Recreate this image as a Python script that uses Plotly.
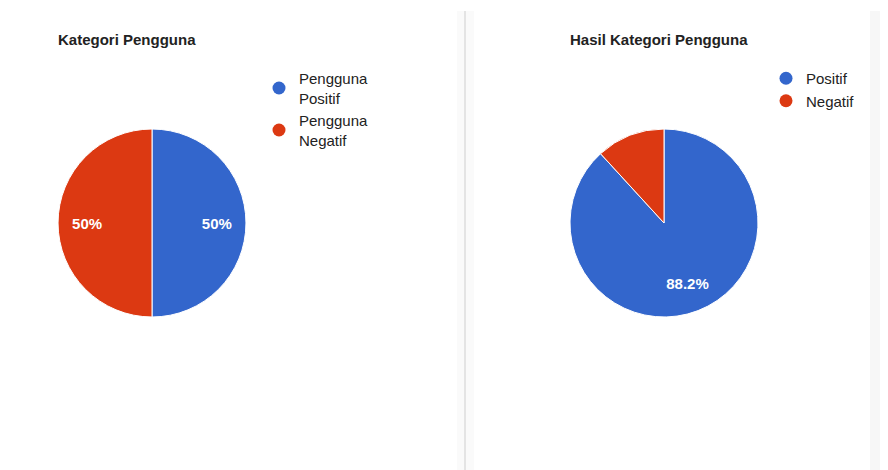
import plotly.graph_objects as go

# ---- data ----
left_title = "Kategori Pengguna"
left_labels = ["Pengguna Positif", "Pengguna Negatif"]
left_values = [50, 50]

right_title = "Hasil Kategori Pengguna"
right_labels = ["Positif", "Negatif"]
right_values = [88.2, 11.8]

colors = ["#3366cc", "#dc3912"]
FONT = "Arial, Liberation Sans, sans-serif"

# page body has an 8px margin; figure covers the window area from (8,8)
OFF = 8
W, H = 888 - OFF, 470 - OFF

def px_x(p):
    return (p - OFF) / W

def px_y(p):
    return 1 - (p - OFF) / H

fig = go.Figure()

left_dom = dict(x=[px_x(58), px_x(246)], y=[px_y(317), px_y(129)])
right_dom = dict(x=[px_x(570), px_x(758)], y=[px_y(317), px_y(129)])
label_font = dict(color="white", size=15, family=FONT, weight="bold")

def add_pie(labels, values, domain, texts):
    # filled slices
    fig.add_trace(go.Pie(
        labels=labels, values=values, sort=False, direction="clockwise",
        marker=dict(colors=colors, line=dict(color="white", width=1)),
        textinfo="none", domain=domain, showlegend=False,
        hoverinfo="label+percent",
    ))
    # transparent ring on top, only used to place the percentage labels
    fig.add_trace(go.Pie(
        labels=labels, values=values, sort=False, direction="clockwise", hole=0.38,
        marker=dict(colors=["rgba(0,0,0,0)"] * len(values), line=dict(width=0)),
        texttemplate=texts, textposition="inside", insidetextorientation="horizontal",
        textfont=label_font, domain=domain, showlegend=False,
        hoverinfo="label+percent",
    ))

add_pie(left_labels, left_values, left_dom, ["%{percent}"] * len(left_values))
right_text = ["%{percent}" if v / sum(right_values) > 0.2 else "" for v in right_values]
add_pie(right_labels, right_values, right_dom, right_text)

# legend entries (circle symbols)
for lab, c in zip(left_labels, colors):
    fig.add_trace(go.Scatter(
        x=[None], y=[None], mode="markers", name=lab.replace(" ", "<br>"),
        marker=dict(color=c, size=13, symbol="circle"), legend="legend",
        hoverinfo="skip",
    ))
for lab, c in zip(right_labels, colors):
    fig.add_trace(go.Scatter(
        x=[None], y=[None], mode="markers", name=lab,
        marker=dict(color=c, size=13, symbol="circle"), legend="legend2",
        hoverinfo="skip",
    ))

legend_common = dict(
    font=dict(family=FONT, size=15, color="#222222"),
    bgcolor="rgba(0,0,0,0)", itemwidth=30, tracegroupgap=0,
    xanchor="left", yanchor="top", itemclick=False, itemdoubleclick=False,
)

fig.update_layout(
    width=W, height=H,
    margin=dict(l=0, r=0, t=0, b=0),
    paper_bgcolor="white", plot_bgcolor="white",
    xaxis=dict(visible=False), yaxis=dict(visible=False),
    legend=dict(x=px_x(259), y=px_y(62), **legend_common),
    legend2=dict(x=px_x(766), y=px_y(62), **legend_common),
    annotations=[
        dict(text=left_title, x=px_x(56), y=px_y(40), xref="paper", yref="paper",
             xanchor="left", yanchor="middle", showarrow=False,
             font=dict(family=FONT, size=15, color="#222222", weight="bold")),
        dict(text=right_title, x=px_x(568), y=px_y(40), xref="paper", yref="paper",
             xanchor="left", yanchor="middle", showarrow=False,
             font=dict(family=FONT, size=15, color="#222222", weight="bold")),
    ],
    shapes=[
        # divider between the two chart panels
        dict(type="rect", xref="paper", yref="paper", x0=px_x(457), x1=px_x(474),
             y0=0, y1=px_y(11), fillcolor="#fafafa", line=dict(width=0), layer="below"),
        dict(type="line", xref="paper", yref="paper", x0=px_x(465), x1=px_x(465),
             y0=0, y1=px_y(11), line=dict(color="#e4e4e4", width=2)),
        # light grey strip on the right edge
        dict(type="rect", xref="paper", yref="paper", x0=px_x(870), x1=1,
             y0=0, y1=px_y(11), fillcolor="#f7f7f7", line=dict(width=0), layer="below"),
    ],
)

fig.write_html("out.html")
